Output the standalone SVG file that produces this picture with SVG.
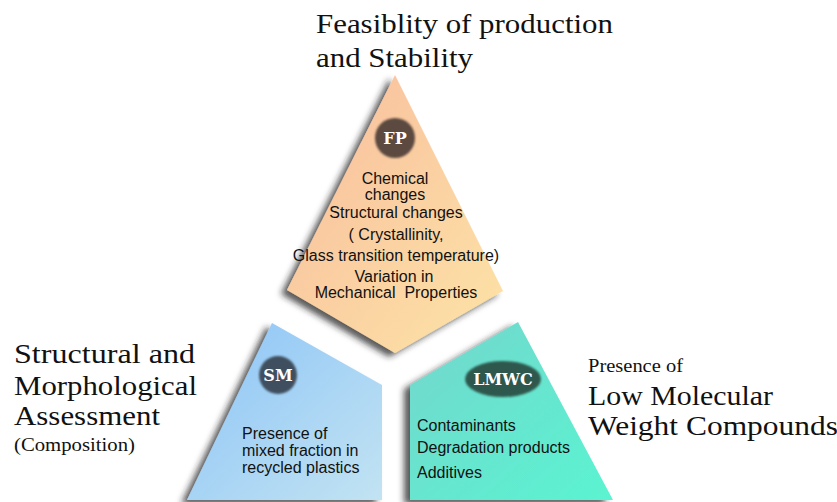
<svg xmlns="http://www.w3.org/2000/svg" width="837" height="502" viewBox="0 0 837 502">
<defs>
<style>
.title{font-family:"Liberation Serif","Times New Roman",serif;fill:#111;}
.body{font-family:"Liberation Sans",Arial,sans-serif;font-size:16px;fill:#111;}
.badge{font-family:"DejaVu Serif",serif;font-weight:bold;font-size:16px;fill:#fff;text-anchor:middle;}
</style>
<linearGradient id="gFP" x1="0" y1="0" x2="1" y2="1">
<stop offset="0" stop-color="#f8bc9e"/>
<stop offset="1" stop-color="#fde4a6"/>
</linearGradient>
<linearGradient id="gSM" x1="0" y1="0" x2="1" y2="1">
<stop offset="0" stop-color="#8cc4f7"/>
<stop offset="1" stop-color="#c2e3f2"/>
</linearGradient>
<linearGradient id="gLM" x1="0" y1="0" x2="1" y2="1">
<stop offset="0" stop-color="#74d6cd"/>
<stop offset="1" stop-color="#5af4d1"/>
</linearGradient>
<filter id="shadow" x="-20%" y="-20%" width="140%" height="140%">
<feGaussianBlur in="SourceAlpha" stdDeviation="3"/>
<feOffset dx="-6" dy="4" result="b"/>
<feFlood flood-color="#222" flood-opacity="0.75"/>
<feComposite in2="b" operator="in"/>
<feMerge><feMergeNode/><feMergeNode in="SourceGraphic"/></feMerge>
</filter>
<filter id="soft" x="-20%" y="-20%" width="140%" height="140%">
<feGaussianBlur stdDeviation="0.9"/>
</filter>
</defs>
<rect width="837" height="502" fill="#fff"/>

<g id="connectors"/>

<g id="fp">
<polygon points="395,75 503,291 395,353 287,290" fill="url(#gFP)" filter="url(#shadow)"/>
<circle cx="395" cy="138" r="20" fill="#5b4a3f" filter="url(#soft)"/>
<text class="badge" x="395" y="144">FP</text>
<g class="body" text-anchor="middle">
<text x="395" y="184">Chemical</text>
<text x="395" y="200">changes</text>
<text x="396" y="218">Structural changes</text>
<text x="396" y="240">( Crystallinity,</text>
<text x="396" y="261">Glass transition temperature)</text>
<text x="394" y="282">Variation in</text>
<text x="396" y="298" xml:space="preserve" style="white-space:pre">Mechanical  Properties</text>
</g>
</g>

<g id="sm">
<polygon points="272,323 382,385 382,500 187,500" fill="url(#gSM)" filter="url(#shadow)"/>
<circle cx="278" cy="375" r="19" fill="#3f4f5e" filter="url(#soft)"/>
<text class="badge" x="278" y="381">SM</text>
<g class="body">
<text x="242" y="439">Presence of</text>
<text x="242" y="456">mixed fraction in</text>
<text x="242" y="473">recycled plastics</text>
</g>
</g>

<g id="lmwc">
<polygon points="518,322 613,500 410,500 410,385" fill="url(#gLM)" filter="url(#shadow)"/>
<ellipse cx="503" cy="379" rx="38" ry="18" fill="#2f594d" filter="url(#soft)"/>
<text class="badge" x="503" y="385">LMWC</text>
<g class="body">
<text x="417" y="431">Contaminants</text>
<text x="417" y="453">Degradation products</text>
<text x="417" y="478">Additives</text>
</g>
</g>

<g id="label-fp" class="title" font-size="28">
<text x="316" y="33" textLength="297" lengthAdjust="spacingAndGlyphs">Feasiblity of production</text>
<text x="316" y="67" textLength="157" lengthAdjust="spacingAndGlyphs">and Stability</text>
</g>
<g id="label-sm" class="title">
<text x="14" y="363" font-size="28" textLength="181" lengthAdjust="spacingAndGlyphs">Structural and</text>
<text x="14" y="395" font-size="28" textLength="183" lengthAdjust="spacingAndGlyphs">Morphological</text>
<text x="14" y="425" font-size="28" textLength="146" lengthAdjust="spacingAndGlyphs">Assessment</text>
<text x="14" y="451" font-size="19" textLength="121" lengthAdjust="spacingAndGlyphs">(Composition)</text>
</g>
<g id="label-lmwc" class="title">
<text x="588" y="372" font-size="19.5" textLength="95" lengthAdjust="spacingAndGlyphs">Presence of</text>
<text x="588" y="405" font-size="28" textLength="185" lengthAdjust="spacingAndGlyphs">Low Molecular</text>
<text x="588" y="435" font-size="28" textLength="250" lengthAdjust="spacingAndGlyphs">Weight Compounds</text>
</g>
</svg>
